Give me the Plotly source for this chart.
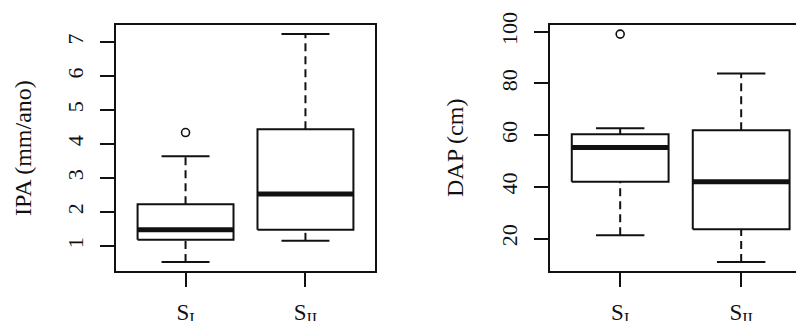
import plotly.graph_objects as go

# ---- data ----
groups = ["S<sub>I</sub>", "S<sub>II</sub>"]

ipa_lower = [0.53, 1.15]
ipa_q1 = [1.18, 1.48]
ipa_median = [1.48, 2.53]
ipa_q3 = [2.23, 4.44]
ipa_upper = [3.64, 7.24]
ipa_outliers = [[4.34], []]

dap_lower = [21.3, 11.0]
dap_q1 = [42.0, 23.6]
dap_median = [55.2, 42.0]
dap_q3 = [60.4, 61.9]
dap_upper = [62.7, 83.9]
dap_outliers = [[99.1], []]

ipa_ticks = [1, 2, 3, 4, 5, 6, 7]
dap_ticks = [20, 40, 60, 80, 100]

# ---- style ----
FONT = "Liberation Serif"
HALF_BOX = 0.4
HALF_CAP = 0.2
BLACK = "#111111"

fig = go.Figure()


def add_boxes(lower, q1, med, q3, upper, outliers, xa, ya):
    for i in range(len(groups)):
        pos = i + 1
        common = dict(xaxis=xa, yaxis=ya, mode="lines", showlegend=False,
                      hoverinfo="skip")
        # whiskers (dashed)
        fig.add_trace(go.Scatter(x=[pos, pos], y=[q3[i], upper[i]],
                                 line=dict(color=BLACK, width=2, dash="8px,5px"), **common))
        fig.add_trace(go.Scatter(x=[pos, pos], y=[lower[i], q1[i]],
                                 line=dict(color=BLACK, width=2, dash="8px,5px"), **common))
        # staples
        for v in (lower[i], upper[i]):
            fig.add_trace(go.Scatter(x=[pos - HALF_CAP, pos + HALF_CAP], y=[v, v],
                                     line=dict(color=BLACK, width=2), **common))
        # box
        fig.add_trace(go.Scatter(
            x=[pos - HALF_BOX, pos + HALF_BOX, pos + HALF_BOX, pos - HALF_BOX, pos - HALF_BOX],
            y=[q1[i], q1[i], q3[i], q3[i], q1[i]],
            line=dict(color=BLACK, width=2), fill="toself", fillcolor="white", **common))
        # median
        fig.add_trace(go.Scatter(x=[pos - HALF_BOX, pos + HALF_BOX], y=[med[i], med[i]],
                                 line=dict(color=BLACK, width=5), **common))
        # outliers
        if outliers[i]:
            fig.add_trace(go.Scatter(
                x=[pos] * len(outliers[i]), y=outliers[i], mode="markers",
                marker=dict(symbol="circle-open", size=8, color=BLACK, line=dict(width=1.6)),
                xaxis=xa, yaxis=ya, showlegend=False, hoverinfo="skip"))


add_boxes(ipa_lower, ipa_q1, ipa_median, ipa_q3, ipa_upper, ipa_outliers, "x", "y")
add_boxes(dap_lower, dap_q1, dap_median, dap_q3, dap_upper, dap_outliers, "x2", "y2")


def padded(lo_vals, hi_vals, outs):
    allv = list(lo_vals) + list(hi_vals) + [v for o in outs for v in o]
    lo, hi = min(allv), max(allv)
    pad = 0.04 * (hi - lo)
    return [lo - pad, hi + pad]


W, H = 796, 321
axis_common = dict(showgrid=False, zeroline=False, showline=True, linecolor=BLACK,
                   linewidth=2, ticks="outside", ticklen=14, tickwidth=2, tickcolor=BLACK,
                   automargin=False)
xfont = dict(family=FONT, size=23, color=BLACK)
yfont = dict(family=FONT, size=22, color=BLACK)

fig.update_layout(
    width=W, height=H,
    margin=dict(l=0, r=0, t=25, b=50),
    paper_bgcolor="white", plot_bgcolor="white",
    xaxis=dict(domain=[116 / W, 375 / W], range=[0.42, 2.58], tickvals=[1, 2],
               ticktext=groups, mirror=True, tickfont=xfont, ticklabelstandoff=5,
               **axis_common),
    yaxis=dict(domain=[0, 1], range=padded(ipa_lower, ipa_upper, ipa_outliers),
               tickvals=ipa_ticks, tickangle=-90, mirror=True, tickfont=yfont,
               ticklabelstandoff=8, **axis_common),
    xaxis2=dict(domain=[550 / W, 1], range=[0.42, 0.42 + (W - 550) / 121.0],
                tickvals=[1, 2], ticktext=groups, mirror=True, anchor="y2",
                tickfont=xfont, ticklabelstandoff=5, **axis_common),
    yaxis2=dict(domain=[0, 1], range=padded(dap_lower, dap_upper, dap_outliers),
                tickvals=dap_ticks, tickangle=-90, mirror=False, anchor="x2",
                tickfont=yfont, ticklabelstandoff=8, **axis_common),
    annotations=[
        dict(text="IPA (mm/ano)", textangle=-90, xref="paper", yref="paper",
             x=23 / W, y=0.5, xanchor="center", yanchor="middle", showarrow=False,
             font=dict(family=FONT, size=24, color=BLACK)),
        dict(text="DAP (cm)", textangle=-90, xref="paper", yref="paper",
             x=455 / W, y=0.5, xanchor="center", yanchor="middle", showarrow=False,
             font=dict(family=FONT, size=24, color=BLACK)),
    ],
)

fig.write_html(
    "out.html", config={"displayModeBar": False},
    post_script=("document.documentElement.style.margin='0';"
                 "document.body.style.margin='0';"
                 "document.body.style.overflow='hidden';"
                 "document.documentElement.style.overflow='hidden';"))
